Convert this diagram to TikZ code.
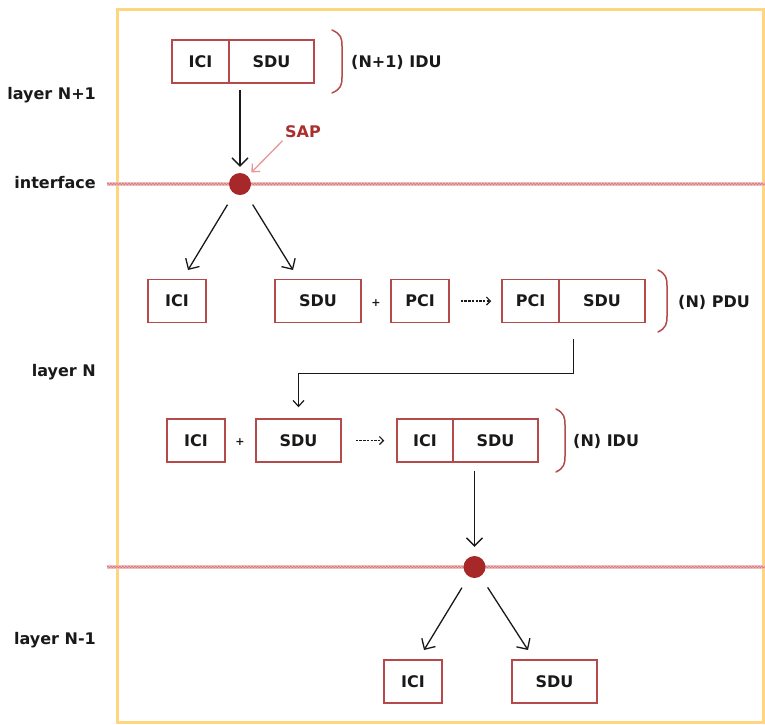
\documentclass[tikz,border=0pt]{standalone}
\usepackage{fontspec}
\setmainfont{DejaVu Sans}
\usetikzlibrary{arrows.meta,fit,decorations.pathmorphing}
\definecolor{boxred}{RGB}{180,74,74}
\definecolor{dotred}{RGB}{166,40,40}
\definecolor{sapred}{RGB}{170,48,48}
\definecolor{sappink}{RGB}{232,150,150}
\definecolor{pinkline}{RGB}{240,190,190}
\definecolor{pinkwave}{RGB}{212,120,120}
\definecolor{framey}{RGB}{255,214,128}
\definecolor{ink}{RGB}{25,25,25}
\begin{document}
\begin{tikzpicture}[x=1pt,y=-1pt,
  font=\fontsize{16}{19}\selectfont\bfseries,
  box/.style={draw=boxred, line width=1.5pt, fill=white, inner sep=0pt, minimum height=43pt, text=ink},
  lbl/.style={inner sep=1pt, text=ink},
  plus/.style={inner sep=0pt, text=ink, font=\fontsize{11}{13}\selectfont\bfseries},
  arr/.style={draw=ink, line width=1.3pt, -{Straight Barb[length=8pt,width=16pt]}},
  elb/.style={draw=ink, line width=1.2pt, -{Straight Barb[length=6pt,width=11pt]}},
  darr/.style={draw=ink, line width=1.1pt, dash pattern=on 2.5pt off 1.2pt, -{Straight Barb[length=4pt,width=8pt]}},
  saparr/.style={draw=sappink, line width=1.3pt, -{Straight Barb[length=6pt,width=11pt]}},
  brk/.style={draw=boxred, line width=1.5pt, line cap=round},
  iface/.style={draw=pinkline, line width=3.2pt},
  ifacewave/.style={draw=pinkwave, line width=0.7pt, decorate, decoration={snake, segment length=3pt, amplitude=0.7pt}},
  dot/.style={circle, fill=dotred, minimum size=22pt, inner sep=0pt}]
\useasboundingbox (0,0) rectangle (765,724);

% frame
\draw[framey, line width=3pt] (117,9) rectangle (763,722);

% interface lines
\draw[iface] (107,184) -- (765,184);
\draw[ifacewave] (107,184) -- (765,184);
\draw[iface] (107,567) -- (765,567);
\draw[ifacewave] (107,567) -- (765,567);

% left labels
\node[lbl, anchor=east] (lN1) at (97,95) {layer N+1};
\node[lbl, anchor=east] (lif) at (97,183) {interface};
\node[lbl, anchor=east] (lN) at (97,372) {layer N};
\node[lbl, anchor=east] (lNm1) at (97,640) {layer N-1};

% top IDU
\node[box, minimum width=57pt] (ici1) at (200.5,61.5) {ICI};
\node[box, minimum width=85pt] (sdu1) at (271.5,61.5) {SDU};
\node[fit=(ici1)(sdu1), inner sep=0pt] (idu1) {};
\draw[brk] (332,30) .. controls (341,34) and (342,38) .. (342,46) -- (342,77) .. controls (342,85) and (341,89) .. (332,93);
\node[lbl, anchor=west] (idu1lbl) at (350,62) {(N+1) IDU};

% SAP
\node[dot] (dot1) at (240,184) {};
\node[lbl, text=sapred] (sap) at (303,132) {SAP};
\draw[arr, shorten <=6pt, shorten >=6pt] (idu1.south -| dot1) -- (dot1);
\draw[saparr, shorten <=2pt, shorten >=5pt] (sap.south west) -- (dot1);

% row 2
\node[box, minimum width=58pt] (ici2) at (177,301) {ICI};
\node[box, minimum width=86pt] (sdu2) at (318,301) {SDU};
\node[plus] (p1) at (376,303) {+};
\node[box, minimum width=58pt] (pci2) at (420,301) {PCI};
\node[box, minimum width=57pt] (pci3) at (530.5,301) {PCI};
\node[box, minimum width=86pt] (sdu3) at (602,301) {SDU};
\node[fit=(pci3)(sdu3), inner sep=0pt] (pdu) {};
\draw[brk] (658,270) .. controls (666,274) and (667,278) .. (667,286) -- (667,316) .. controls (667,324) and (666,328) .. (658,332);
\node[lbl, anchor=west] (pdulbl) at (677,302) {(N) PDU};

\coordinate (t1) at (188,270);
\coordinate (t2) at (293,270);
\draw[arr, shorten <=13pt] (dot1) -- (t1);
\draw[arr, shorten <=13pt] (dot1) -- (t2);
\draw[darr, shorten <=11pt, shorten >=10pt] (pci2) -- (pci3);

% row 3
\node[box, minimum width=58pt] (ici4) at (196,440.5) {ICI};
\node[plus] (p2) at (240,442) {+};
\node[box, minimum width=85pt] (sdu4) at (298.5,440.5) {SDU};
\node[box, minimum width=56pt] (ici5) at (425,440.5) {ICI};
\node[box, minimum width=85pt] (sdu5) at (495.5,440.5) {SDU};
\node[fit=(ici5)(sdu5), inner sep=0pt] (nidu) {};
\draw[brk] (556,409) .. controls (564,413) and (565,417) .. (565,425) -- (565,456) .. controls (565,464) and (564,468) .. (556,472);
\node[lbl, anchor=west] (nidulbl) at (572,441) {(N) IDU};

\draw[elb, shorten <=16pt, shorten >=11pt] (pdu.south) -- ++(0,50) -| (sdu4.north);
\draw[darr, shorten <=14pt, shorten >=12pt] (sdu4) -- (ici5);

% bottom
\node[dot] (dot2) at (474.5,567) {};
\draw[arr, shorten <=8pt, shorten >=9pt] (nidu.south -| dot2) -- (dot2);
\node[box, minimum width=58pt] (ici6) at (413,681.5) {ICI};
\node[box, minimum width=85pt] (sdu6) at (554.5,681.5) {SDU};
\coordinate (t3) at (424,650);
\coordinate (t4) at (528,650);
\draw[arr, shorten <=13pt] (dot2) -- (t3);
\draw[arr, shorten <=13pt] (dot2) -- (t4);
\end{tikzpicture}
\end{document}
